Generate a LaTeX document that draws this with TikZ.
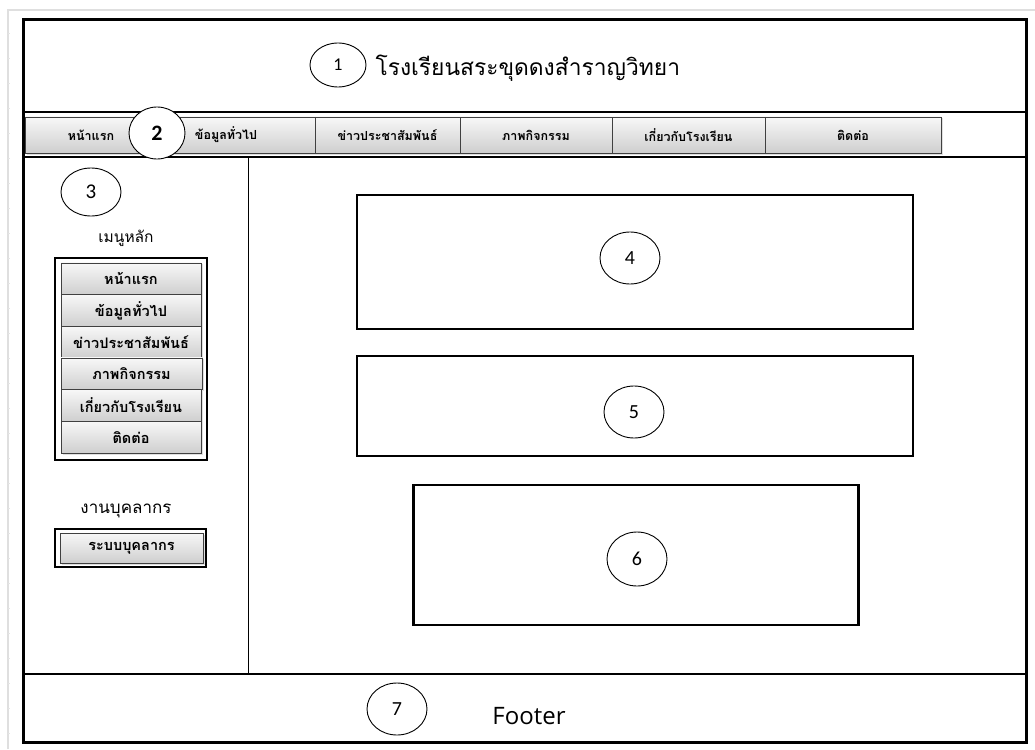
\documentclass[tikz,border=0pt]{standalone}
\usepackage{fontspec}
\setmainfont{Carlito}
\newfontfamily\thai[Script=Thai]{Loma}
\newfontfamily\osans{Open Sans}
\usetikzlibrary{shapes.geometric,shadows}
\tikzset{
  frame/.style={draw=black, line width=3pt},
  sepline/.style={draw=black, line width=2.6pt},
  thinline/.style={draw=black, line width=1pt},
  content/.style={draw=black, line width=2.6pt, fill=white},
  btn/.style={draw=black!75, line width=0.9pt, top color=gray!6, bottom color=gray!38,
    inner sep=0pt, drop shadow={opacity=0.25, shadow xshift=1.5pt, shadow yshift=-1.5pt}},
  navbtn/.style={btn, minimum height=36, font=\thai\bfseries\fontsize{12.5}{15}\selectfont},
  sidebtn/.style={btn, minimum width=140, minimum height=31.7, font=\thai\bfseries\fontsize{14.5}{17}\selectfont},
  num/.style={ellipse, draw=black, line width=0.9pt, fill=white, inner sep=0pt, font=\fontsize{20}{22}\selectfont},
}
\begin{document}
\begin{tikzpicture}[x=1pt, y=-1pt]
\useasboundingbox (0,0) rectangle (1035,749);
% page edge
\draw[gray!25, line width=2pt] (8,749) -- (8,10) -- (1035,10);
\foreach \yy in {33,58,...,733} \draw[gray!20, line width=0.8pt] (8,\yy) -- (10,\yy);
% outer frame and separators
\node[frame, inner sep=0pt, minimum width=1003, minimum height=722] (page) at (524.5,381) {};
\coordinate (h1l) at (23,112); \coordinate (h1r) at (1026,112);
\coordinate (h2l) at (23,157); \coordinate (h2r) at (1026,157);
\coordinate (fl) at (23,674);  \coordinate (fr) at (1026,674);
\coordinate (st) at (248,157); \coordinate (sb) at (248,674);
\draw[sepline] (h1l) -- (h1r);
\draw[sepline] (h2l) -- (h2r);
\draw[sepline] (fl) -- (fr);
\draw[thinline] (st) -- (sb);
% header
\node[num, minimum width=56, minimum height=44, font=\fontsize{18}{20}\selectfont] (c1) at (338,65) {1};
\node[font=\thai\fontsize{22.8}{26}\selectfont, anchor=west] (title) at (372,68) {โรงเรียนสระขุดดงสำราญวิทยา};
% nav bar
\node[navbtn, minimum width=132] (n1) at (91,135) {หน้าแรก};
\node[navbtn, minimum width=158] (n2) at (236,135) {\hspace*{-20pt}ข้อมูลทั่วไป};
\node[navbtn, minimum width=145] (n3) at (387.5,135) {ข่าวประชาสัมพันธ์};
\node[navbtn, minimum width=152] (n4) at (536,135) {ภาพกิจกรรม};
\node[navbtn, minimum width=153] (n5) at (688.5,135) {เกี่ยวกับโรงเรียน};
\node[navbtn, minimum width=176] (n6) at (853,135) {ติดต่อ};
\node[num, minimum width=56, minimum height=52, font=\bfseries\fontsize{22}{24}\selectfont] (c2) at (157,133) {2};
% sidebar
\node[num, minimum width=60, minimum height=48, font=\fontsize{21}{23}\selectfont] (c3) at (91,192) {3};
\node[font=\thai\fontsize{15.5}{18}\selectfont] (mh) at (126,238) {เมนูหลัก};
\node[draw=black, line width=2.6pt, minimum width=152, minimum height=202, inner sep=0pt] (menu) at (131,359) {};
\node[sidebtn] (s1) at (131,278.8) {หน้าแรก};
\node[sidebtn] (s2) at (131,310.5) {ข้อมูลทั่วไป};
\node[sidebtn] (s3) at (131,342.2) {ข่าวประชาสัมพันธ์};
\node[sidebtn, minimum width=141] (s4) at (131.5,373.8) {ภาพกิจกรรม};
\node[sidebtn] (s5) at (131,405.5) {เกี่ยวกับโรงเรียน};
\node[sidebtn] (s6) at (131,437.2) {ติดต่อ};
\node[font=\thai\fontsize{17}{20}\selectfont] (hr) at (126,511) {งานบุคลากร};
\node[draw=black, line width=2.6pt, minimum width=151, minimum height=38, inner sep=0pt] (hrbox) at (130.5,548) {};
\node[sidebtn, minimum width=143, minimum height=30] (hrb) at (131.5,548) {ระบบบุคลากร};
% content
\node[content, minimum width=556, minimum height=134, inner sep=0pt] (b4) at (635,262) {};
\node[content, minimum width=556, minimum height=100, inner sep=0pt] (b5) at (635,406) {};
\node[content, minimum width=445, minimum height=140, inner sep=0pt] (b6) at (636,555) {};
\node[num, minimum width=60, minimum height=52] (c4) at (630,258) {4};
\node[num, minimum width=60, minimum height=52] (c5) at (634,412) {5};
\node[num, minimum width=60, minimum height=54] (c6) at (637,559) {6};
% footer
\node[num, minimum width=60, minimum height=52] (c7) at (397,709) {7};
\node[font=\osans\fontsize{24}{28}\selectfont] (ft) at (529,716) {Footer};
\end{tikzpicture}
\end{document}
